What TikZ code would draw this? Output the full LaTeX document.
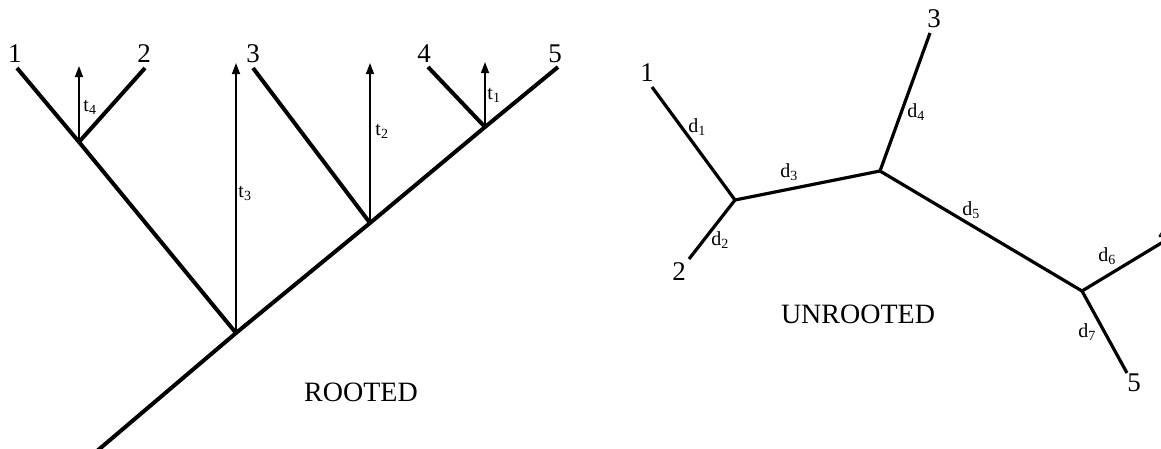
\documentclass[tikz,border=0pt]{standalone}
\usepackage{fontspec}
\setmainfont{Liberation Serif}
\usetikzlibrary{arrows.meta}
\tikzset{
    branch/.style={line width=4pt},
    ubranch/.style={line width=3.2pt},
    timearrow/.style={line width=1.4pt, -{Triangle[width=8pt,length=11pt]}},
    leaflabel/.style={font=\fontsize{27}{30}\selectfont, inner sep=0pt},
    edgelabel/.style={font=\fontsize{20}{22}\selectfont, inner sep=0pt},
    treetitle/.style={font=\fontsize{28}{32}\selectfont, inner sep=0pt}
}
\begin{document}
\begin{tikzpicture}[x=1pt,y=-1pt]
    \useasboundingbox (0,0) rectangle (1161,448);
    % rooted tree
    \coordinate (root) at (97,451);
    \coordinate (na) at (236,333);
    \coordinate (nb) at (370,223);
    \coordinate (nc) at (485,127);
    \coordinate (nd) at (79,142);
    \coordinate (r1) at (17,68);
    \coordinate (r2) at (145,68);
    \coordinate (r3) at (253,68);
    \coordinate (r4) at (428,67);
    \coordinate (r5) at (558,67);
    \draw[branch] (root) -- (na) -- (nb) -- (nc) -- (r5);
    \draw[branch] (na) -- (nd) -- (r1);
    \draw[branch] (nd) -- (r2);
    \draw[branch] (nb) -- (r3);
    \draw[branch] (nc) -- (r4);
    \foreach \n/\y in {nd/66,na/63,nb/63,nc/62} {
        \coordinate (\n tip) at (\n |- 0,\y);
        \draw[timearrow] (\n) -- (\n tip);
    }
    \foreach \i/\x in {1/15,2/144,3/253,4/424,5/555} {
        \node[leaflabel] (rl\i) at (\x,54) {\i};
    }
    \node[edgelabel] (t4) at (90,107) {t\textsubscript{4}};
    \node[edgelabel] (t3) at (245,193) {t\textsubscript{3}};
    \node[edgelabel] (t2) at (382,131) {t\textsubscript{2}};
    \node[edgelabel] (t1) at (494,95) {t\textsubscript{1}};
    \node[treetitle] (rooted) at (361,392) {ROOTED};
    % unrooted tree
    \coordinate (up) at (735,200);
    \coordinate (uq) at (880,171);
    \coordinate (ur) at (1082,291);
    \coordinate (u1) at (652,87);
    \coordinate (u2) at (689,259);
    \coordinate (u3) at (930,33);
    \coordinate (u4) at (1163,242);
    \coordinate (u5) at (1127,373);
    \draw[ubranch] (u1) -- (up) -- (u2);
    \draw[ubranch] (up) -- (uq) -- (u3);
    \draw[ubranch] (uq) -- (ur) -- (u4);
    \draw[ubranch] (ur) -- (u5);
    \node[leaflabel] (ul1) at (647,73) {1};
    \node[leaflabel] (ul2) at (679,272) {2};
    \node[leaflabel] (ul3) at (934,19) {3};
    \node[leaflabel] (ul4) at (1165,233) {4};
    \node[leaflabel] (ul5) at (1134,383) {5};
    \node[edgelabel] (d1) at (697,127) {d\textsubscript{1}};
    \node[edgelabel] (d2) at (720,240) {d\textsubscript{2}};
    \node[edgelabel] (d3) at (789,172) {d\textsubscript{3}};
    \node[edgelabel] (d4) at (916,112) {d\textsubscript{4}};
    \node[edgelabel] (d5) at (971,210) {d\textsubscript{5}};
    \node[edgelabel] (d6) at (1107,256) {d\textsubscript{6}};
    \node[edgelabel] (d7) at (1087,332) {d\textsubscript{7}};
    \node[treetitle] (unrooted) at (858,314) {UNROOTED};
\end{tikzpicture}
\end{document}
